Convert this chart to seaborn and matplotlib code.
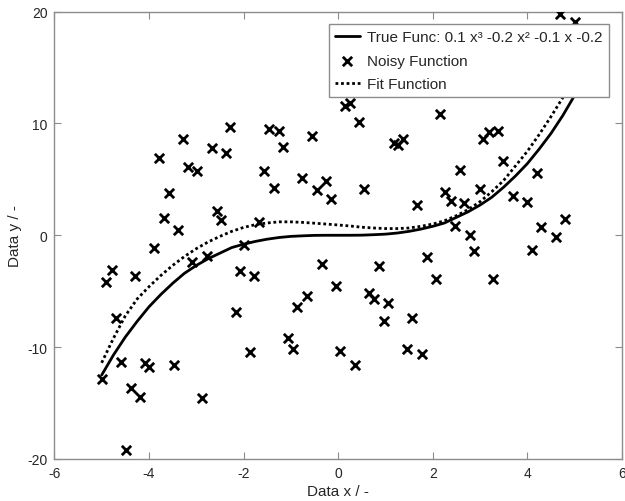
import matplotlib
matplotlib.use("Agg")
import matplotlib.pyplot as plt
import seaborn as sns
import pandas as pd

# Curves
curve_x = [-5, -4.75, -4.5, -4.25, -4, -3.75, -3.5, -3.25, -3, -2.75, -2.5, -2.25, -2,
           -1.75, -1.5, -1.25, -1, -0.75, -0.5, -0.25, 0, 0.25, 0.5, 0.75, 1, 1.25, 1.5,
           1.75, 2, 2.25, 2.5, 2.75, 3, 3.25, 3.5, 3.75, 4, 4.25, 4.5, 4.75, 5]
true_y = [-12.5, -10.7, -9.1, -7.7, -6.4, -5.3, -4.3, -3.4, -2.7, -2.1, -1.6, -1.1, -0.8,
          -0.55, -0.35, -0.2, -0.1, -0.05, -0.01, 0, 0, 0, 0.01, 0.05, 0.1, 0.2, 0.35,
          0.55, 0.8, 1.1, 1.6, 2.1, 2.7, 3.4, 4.3, 5.3, 6.4, 7.7, 9.1, 10.7, 12.5]
fit_y = [-11.4, -9.2, -7.2, -5.7, -4.6, -3.6, -2.7, -1.9, -1.2, -0.6, -0.1, 0.35, 0.7,
         0.95, 1.1, 1.2, 1.2, 1.15, 1.08, 1.0, 0.92, 0.83, 0.72, 0.65, 0.6, 0.6, 0.65,
         0.8, 1.0, 1.3, 1.75, 2.3, 3.0, 3.9, 4.9, 6.2, 7.5, 9.0, 10.6, 12.3, 14.2]

noisy_x = [4.69, 5.00, 0.15, 0.25, 2.16, 0.45, -2.29, -1.46, -1.26, -0.55, -3.28, 1.18, 1.26,
           1.37, 3.20, 3.39, 3.07, -1.16, -2.67, -2.37, -3.78, -3.18, -2.98, -1.57, 2.58,
           3.49, 4.20, -0.76, -0.25, -1.36, -0.45, 0.55, 2.99, -3.58, 2.27, 3.69, -0.15,
           2.38, 4.00, 1.67, 2.67, -2.57, -2.47, -3.69, -1.67, -3.38, 2.48, 4.30, 4.79,
           2.78, 4.60, -1.98, -3.89, 2.88, 4.10, -2.78, -3.08, 1.87, -0.35, 0.86, -4.79,
           -4.90, -4.29, -2.07, -1.77, 2.07, 3.28, -0.05, 0.66, 0.76, -0.66, 1.06, -0.86,
           -2.17, -4.69, 1.57, 0.96, -1.06, -0.96, -1.87, 0.05, 1.46, 1.78, 0.36, -4.59,
           -4.09, -3.99, -3.48, -5.00, -4.39, -4.20, -2.88, -4.49]
noisy_y = [19.76, 19.1, 11.55, 11.85, 10.83, 10.12, 9.70, 9.52, 9.32, 8.87, 8.57, 8.27, 8.07,
           8.63, 9.23, 9.35, 8.57, 7.86, 7.77, 7.38, 6.93, 6.10, 5.77, 5.71, 5.83,
           6.64, 5.57, 5.09, 4.82, 4.26, 4.02, 4.11, 4.17, 3.81, 3.87, 3.54, 3.21,
           3.07, 2.98, 2.68, 2.86, 2.14, 1.37, 1.58, 1.19, 0.48, 0.83, 0.74, 1.43,
           0.06, -0.18, -0.89, -1.16, -1.43, -1.34, -1.85, -2.38, -1.93, -2.53, -2.74, -3.07,
           -4.17, -3.63, -3.18, -3.66, -3.93, -3.87, -4.52, -5.18, -5.71, -5.42, -6.07, -6.37,
           -6.90, -7.38, -7.44, -7.62, -9.14, -10.18, -10.48, -10.39, -10.18, -10.57, -11.58, -11.37,
           -11.46, -11.76, -11.64, -12.86, -13.66, -14.46, -14.58, -19.17]

x_ticks = [-6, -4, -2, 0, 2, 4, 6]
y_ticks = [-20, -10, 0, 10, 20]

sns.set_style("white")
plt.rcParams['font.family'] = ['Liberation Sans', 'DejaVu Sans']
plt.rcParams['axes.unicode_minus'] = False

curves = pd.DataFrame({"x": curve_x, "true": true_y, "fit": fit_y})
noisy = pd.DataFrame({"x": noisy_x, "y": noisy_y})

fig = plt.figure(figsize=(6.25, 5.02), dpi=100)
ax = fig.add_axes([0.087, 0.0837, 0.908, 0.8913])

sns.lineplot(data=curves, x="x", y="true", ax=ax, color="black", linewidth=2,
             label="True Func: 0.1 x\u00b3 -0.2 x\u00b2 -0.1 x -0.2", sort=False)
sns.scatterplot(data=noisy, x="x", y="y", ax=ax, marker="x", color="black", s=45,
                linewidth=2, label="Noisy Function", zorder=3)
sns.lineplot(data=curves, x="x", y="fit", ax=ax, color="black", linewidth=2,
             linestyle=(0, (1, 1)), label="Fit Function", sort=False)

ax.set_xlim(-6, 6)
ax.set_ylim(-20, 20)
ax.set_xticks(x_ticks)
ax.set_yticks(y_ticks)
ax.set_xlabel("Data x / -", fontsize=11, color="#262626", labelpad=3)
ax.set_ylabel("Data y / -", fontsize=11, color="#262626", labelpad=4)
ax.tick_params(direction="in", length=5, width=0.8, color="#8c8c8c",
               labelsize=10, labelcolor="#262626", top=True, right=True,
               bottom=True, left=True, pad=5)
for sp in ax.spines.values():
    sp.set_color("#8c8c8c")
    sp.set_linewidth(1.0)
    sp.set_visible(True)

leg = ax.legend(loc="upper right", bbox_to_anchor=(0.977, 0.972), fontsize=11,
                frameon=True, fancybox=False, framealpha=1, edgecolor="#8c8c8c",
                handlelength=1.6, handletextpad=0.5, labelspacing=0.62,
                borderpad=0.4, borderaxespad=0)
leg.get_frame().set_linewidth(1.0)
leg.set_zorder(5)

fig.savefig("out.png", dpi=100)
